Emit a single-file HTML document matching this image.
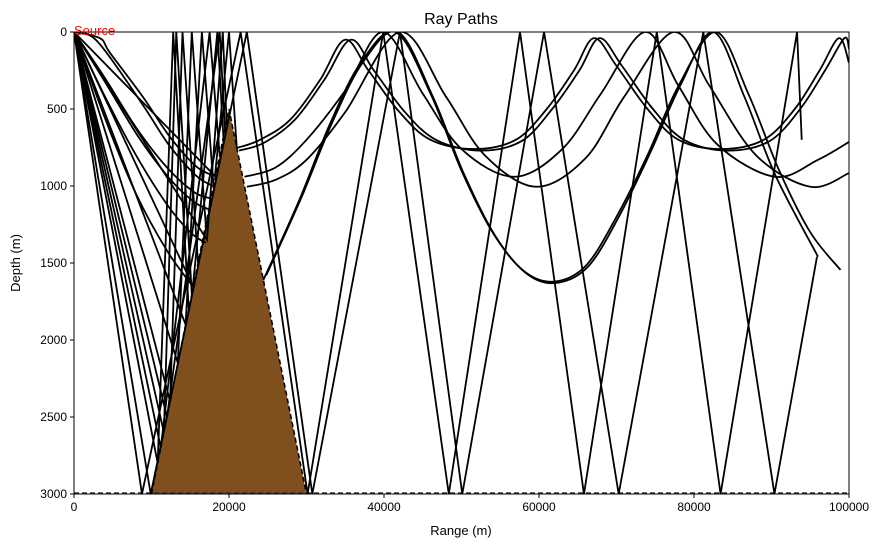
<!DOCTYPE html>
<html><head><meta charset="utf-8"><style>
body{margin:0;background:#fff;}
svg{display:block;font-family:"Liberation Sans","DejaVu Sans",sans-serif;}
</style></head><body>
<svg id="chart" width="885" height="547" xmlns="http://www.w3.org/2000/svg">
<rect width="885" height="547" fill="#fff"/>
<text x="461" y="24" font-size="16" text-anchor="middle">Ray Paths</text>
<g id="plot"></g>
<text x="461" y="535" font-size="13" text-anchor="middle">Range (m)</text>
<text x="20" y="263" font-size="13" text-anchor="middle" transform="rotate(-90 20 263)">Depth (m)</text>
</svg>
<script>
const xTicks=[0,20000,40000,60000,80000,100000];
const yTicks=[0,500,1000,1500,2000,2500,3000];
const seamountBase=[10000,30000];
const seamountPeak=[20000,500];
const bottomDepth=3000;
// smooth (refracting) rays: [range, depth] waypoints
const rayL1a=[[0,0],[3350,40],[4650,136],[8900,422],[12390,682],[15870,877],[18190,935]];
const rayL1b=[[0,0],[3000,60],[8700,460],[12200,730],[15700,930],[17900,1000]];
const rayL2a=[[0,0],[4000,300],[8000,620],[12000,880],[15500,1040],[17600,1080]];
const rayL2b=[[0,0],[4200,340],[8300,680],[12300,950],[15400,1100],[17300,1150]];
const rayL3=[[0,0],[4000,420],[8000,800],[12000,1120],[15000,1300],[17000,1370]];
const rayL4=[[0,0],[4000,560],[8000,1050],[12000,1420],[15300,1650]];
const rayA1=[[21030,753],[24000,700],[27870,571],[31740,312],[34960,50],[38000,250],[42000,520],[46000,700],[51610,760],[57000,700],[61000,500],[64500,250],[67100,40],[70000,220],[74000,500],[78000,700],[83480,760],[89000,700],[93000,500],[96200,250],[98700,40],[100000,200]];
const rayA2=[[21300,770],[24500,720],[28500,570],[32300,310],[35700,50],[38700,250],[42700,520],[46700,700],[52300,770],[57700,710],[61700,500],[65200,250],[67800,40],[70700,220],[74700,500],[78700,700],[84200,770],[89700,710],[93700,500],[96900,250],[99400,40],[100000,110]];
const rayB1=[[22000,940],[26000,880],[30000,700],[35000,380],[39870,0],[45000,400],[50000,760],[56770,940],[63000,760],[68000,400],[73700,0],[78000,350],[83000,730],[90400,940],[96000,830],[100000,714]];
const rayB2=[[22300,1005],[26000,960],[30000,830],[35000,520],[42060,0],[48000,420],[53000,800],[59600,1005],[66000,820],[71000,420],[77400,0],[82000,350],[88000,800],[95000,1005],[100000,916]];
const rayC1=[[24440,1610],[29000,1100],[33000,600],[37000,200],[41500,0],[46000,400],[50000,900],[54000,1300],[58000,1550],[61830,1621],[66000,1520],[70000,1200],[74000,800],[78000,350],[82840,0],[87000,400],[91000,900],[95000,1300],[98900,1545]];
const rayC2=[[24800,1580],[29300,1080],[33300,590],[37300,195],[41800,0],[46300,420],[50300,920],[54300,1320],[58300,1565],[62100,1630],[66300,1525],[70300,1200],[74300,790],[78300,340],[82500,0],[86500,420],[90500,930],[96000,1459]];
// straight (steep) rays: reflection waypoints
const chain1=[[0,0],[8770,3000],[21500,0],[30140,3000],[39900,0],[48360,3000],[57550,0],[65800,3000],[75200,0],[83430,3000],[93300,0],[93900,700]];
const chain2=[[0,0],[9900,3000],[22300,0],[30750,3000],[42060,0],[50100,3000],[60650,0],[70280,3000],[81200,0],[90380,3000],[95870,1459]];
const fan1=[[0,0],[14400,1900],[16500,0],[18000,1000]];
const fan2=[[0,0],[13400,2150],[15200,0],[17000,1250]];
const fan3=[[0,0],[12400,2400],[14000,0],[16000,1500]];
const fan4=[[0,0],[11600,2600],[13200,0],[15200,1700]];
const fan5=[[0,0],[10800,2800],[12800,0],[14800,1800]];
const fan6=[[0,0],[15350,1650],[18500,0],[19300,700]];
const fan7=[[0,0],[17160,1350],[19200,0],[19700,600]];
const fan8=[[0,0],[18190,935],[20000,0],[21000,750]];
const fan9=[[0,0],[11200,2700],[17500,0],[18800,800]];
const fan10=[[0,0],[12000,2500],[18800,0],[19500,650]];

const smoothRays=[rayL1a,rayL1b,rayL2a,rayL2b,rayL3,rayL4,rayA1,rayA2,rayB1,rayB2,rayC1,rayC2];
const straightRays=[chain1,chain2,fan1,fan2,fan3,fan4,fan5,fan6,fan7,fan8,fan9,fan10];

const X0=74,X1=849,Y0=32,Y1=494,XMAX=100000,YMAX=3000;
function sx(r){return X0+(r/XMAX)*(X1-X0);}
function sy(d){return Y0+(d/YMAX)*(Y1-Y0);}
const NS="http://www.w3.org/2000/svg";
const plot=document.getElementById('plot');
function mk(tag,attrs){const e=document.createElementNS(NS,tag);for(const k in attrs)e.setAttribute(k,attrs[k]);return e;}

const clip=mk('clipPath',{id:'pc'});
clip.appendChild(mk('rect',{x:X0,y:Y0,width:X1-X0,height:Y1-Y0}));
plot.appendChild(clip);
const inner=mk('g',{'clip-path':'url(#pc)'});
plot.appendChild(inner);

function smoothPath(pts){
  const p=pts.map(q=>[sx(q[0]),sy(q[1])]);
  let d='M'+p[0][0]+','+p[0][1];
  for(let i=0;i<p.length-1;i++){
    const p0=p[Math.max(i-1,0)],p1=p[i],p2=p[i+1],p3=p[Math.min(i+2,p.length-1)];
    const c1x=p1[0]+(p2[0]-p0[0])/6,c1y=p1[1]+(p2[1]-p0[1])/6;
    const c2x=p2[0]-(p3[0]-p1[0])/6,c2y=p2[1]-(p3[1]-p1[1])/6;
    d+=' C'+c1x+','+c1y+' '+c2x+','+c2y+' '+p2[0]+','+p2[1];
  }
  return d;
}
function linePath(pts){return pts.map((q,i)=>(i?'L':'M')+sx(q[0])+','+sy(q[1])).join(' ');}

// seamount
const sm=mk('polygon',{points:sx(seamountBase[0])+','+sy(bottomDepth)+' '+sx(seamountPeak[0])+','+sy(seamountPeak[1])+' '+sx(seamountBase[1])+','+sy(bottomDepth),fill:'#7f4f1e'});


inner.appendChild(sm);
const smEdge=mk('polyline',{points:sx(seamountBase[0])+','+sy(bottomDepth)+' '+sx(seamountPeak[0])+','+sy(seamountPeak[1])+' '+sx(seamountBase[1])+','+sy(bottomDepth),fill:'none',stroke:'#000','stroke-width':1.5,'stroke-dasharray':'5,3'});


inner.appendChild(smEdge);
const bl=mk('line',{x1:X0,x2:X1,y1:sy(bottomDepth)-1,y2:sy(bottomDepth)-1,stroke:'#333','stroke-width':1.5,'stroke-dasharray':'5,3'});


inner.appendChild(bl);

smoothRays.forEach(r=>{
  const e=mk('path',{d:smoothPath(r),fill:'none',stroke:'#000','stroke-width':1.8});
  
  
  inner.appendChild(e);
});
straightRays.forEach(r=>{
  const e=mk('path',{d:linePath(r),fill:'none',stroke:'#000','stroke-width':1.8,'stroke-linejoin':'miter'});
  
  
  inner.appendChild(e);
});

// frame
const fr=mk('rect',{x:X0,y:Y0,width:X1-X0,height:Y1-Y0,fill:'none',stroke:'#000','stroke-width':1});


plot.appendChild(fr);

xTicks.forEach(t=>{
  const x=sx(t);
  const l=mk('line',{x1:x,x2:x,y1:Y1,y2:Y1+4,stroke:'#000'});
  
  
  plot.appendChild(l);
  const tx=mk('text',{x:x,y:Y1+17,'font-size':12,'text-anchor':'middle'});
  tx.textContent=String(t);
  
  
  plot.appendChild(tx);
});
yTicks.forEach(t=>{
  const y=sy(t);
  const l=mk('line',{x1:X0-4,x2:X0,y1:y,y2:y,stroke:'#000'});
  
  
  plot.appendChild(l);
  const tx=mk('text',{x:X0-7,y:y+4,'font-size':12,'text-anchor':'end'});
  tx.textContent=String(t);
  
  
  plot.appendChild(tx);
});
const src=mk('text',{x:sx(0),y:sy(0)+3,'font-size':13,fill:'#ff0000'});
src.textContent='Source';


plot.appendChild(src);
</script>
</body></html>
